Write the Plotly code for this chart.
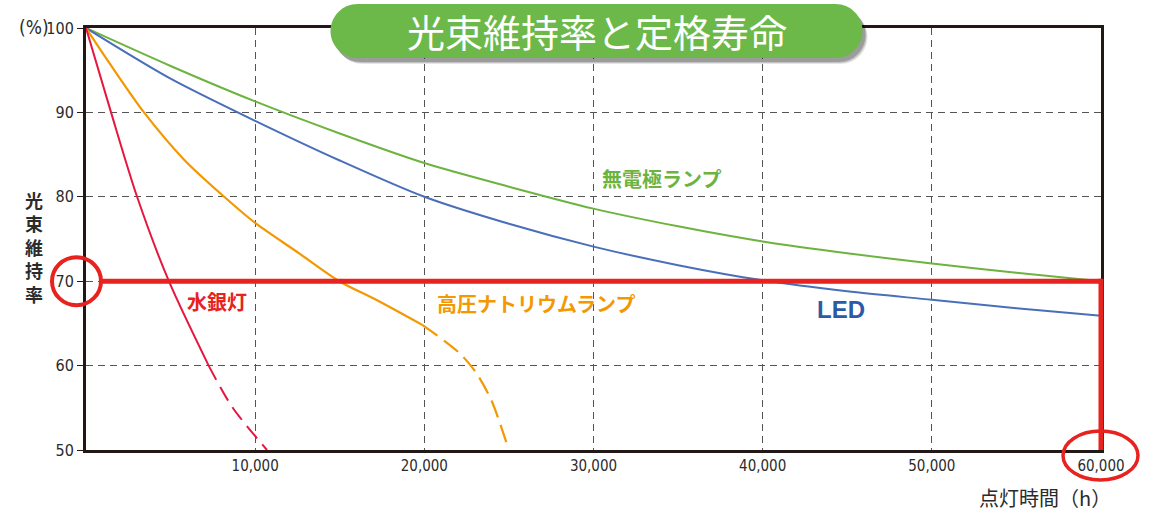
import plotly.graph_objects as go

# ---------------- data ----------------
HOURS_TICKS = [10000, 20000, 30000, 40000, 50000, 60000]
HOURS_TICK_TEXT = ["10,000", "20,000", "30,000", "40,000", "50,000", "60,000"]
PCT_TICKS = [50, 60, 70, 80, 90, 100]
PCT_TICK_TEXT = ["50", "60", "70", "80", "90", "100"]

# 無電極ランプ
ELECTRODELESS_H = [0, 5000, 10000, 15000, 20000, 25000, 30000, 35000, 40000, 45000, 50000, 55000, 60000]
ELECTRODELESS_PCT = [100, 95.5, 91.3, 87.5, 84.0, 81.2, 78.6, 76.5, 74.7, 73.3, 72.1, 71.0, 70.0]

# LED
LED_H = [0, 5000, 10000, 15000, 20000, 25000, 30000, 35000, 40000, 45000, 50000, 55000, 60000]
LED_PCT = [100, 94.0, 89.0, 84.3, 80.0, 76.8, 74.1, 71.9, 70.1, 68.8, 67.8, 66.8, 65.9]

# 高圧ナトリウムランプ (measured / extrapolated)
SODIUM_H = [0, 1400, 3430, 5800, 8170, 10000, 12600, 14970, 17150, 19900]
SODIUM_PCT = [100, 95.8, 90.0, 84.4, 80.0, 76.9, 73.3, 70.0, 67.8, 64.8]
SODIUM_EXT_H = [19900, 22070, 23080, 23960, 24850]
SODIUM_EXT_PCT = [64.8, 61.5, 59.1, 55.9, 50.9]

# 水銀灯 (measured / extrapolated)
MERCURY_H = [0, 1480, 3020, 4900, 7250]
MERCURY_PCT = [100, 90.0, 80.0, 70.0, 60.0]
MERCURY_EXT_H = [7250, 8640, 10700]
MERCURY_EXT_PCT = [60.0, 55.1, 50.0]

THRESHOLD_PCT = 70
RATED_LIFE_H = 60000
X_RANGE = [0, 60000]
Y_RANGE = [50, 100]

# ---------------- styles ----------------
GREEN = "#6db33f"
BLUE = "#4a6fba"
ORANGE = "#f39800"
MERCURY = "#e5173f"
RED = "#e8221e"
AXIS = "#231815"
GRID = "#555555"
TXT = "#2b2b2b"
NUM_FONT = "Liberation Sans Narrow, DejaVu Sans Condensed, Arial Narrow, sans-serif"
JP_FONT = "Noto Sans CJK JP, sans-serif"

fig = go.Figure()

def add_line(x, y, color, dash="solid", width=2.0):
    fig.add_trace(go.Scatter(
        x=x, y=y, mode="lines",
        line=dict(color=color, width=width, dash=dash, shape="spline", smoothing=0.8),
        hoverinfo="skip", showlegend=False))

add_line(ELECTRODELESS_H, ELECTRODELESS_PCT, GREEN)
add_line(LED_H, LED_PCT, BLUE)
add_line(SODIUM_H, SODIUM_PCT, ORANGE, width=2.2)
add_line(SODIUM_EXT_H, SODIUM_EXT_PCT, ORANGE, dash="18px,8px", width=2.2)
add_line(MERCURY_H, MERCURY_PCT, MERCURY)
add_line(MERCURY_EXT_H, MERCURY_EXT_PCT, MERCURY, dash="16px,8px")

y_frac_thr = (THRESHOLD_PCT - Y_RANGE[0]) / (Y_RANGE[1] - Y_RANGE[0])

shapes = []
# threshold (70%) horizontal line
shapes.append(dict(type="line", xref="x", yref="y", x0=900, x1=RATED_LIFE_H,
                   y0=THRESHOLD_PCT, y1=THRESHOLD_PCT, line=dict(color=RED, width=5), layer="above"))
# rated life vertical line on right edge
shapes.append(dict(type="line", xref="paper", yref="y", x0=1, x1=1,
                   y0=Y_RANGE[0], y1=THRESHOLD_PCT + 0.3, line=dict(color=RED, width=5), layer="above"))
# circle around 70 label
shapes.append(dict(type="circle", xref="paper", yref="paper", xsizemode="pixel", ysizemode="pixel",
                   xanchor=0, yanchor=y_frac_thr, x0=-34, x1=15, y0=-24, y1=24,
                   line=dict(color=RED, width=4), layer="above"))
# ellipse around 60,000 label
shapes.append(dict(type="circle", xref="paper", yref="paper", xsizemode="pixel", ysizemode="pixel",
                   xanchor=1, yanchor=0, x0=-38, x1=37, y0=-30, y1=19,
                   line=dict(color=RED, width=3.5), layer="above"))

# title pill
def pill(xl, xr, yt, yb):
    r = (yt - yb) / 2
    yc = (yt + yb) / 2
    k = 0.5523 * r
    return (f"M {xl},{yt} L {xr},{yt} "
            f"C {xr + k},{yt} {xr + r},{yc + k} {xr + r},{yc} "
            f"C {xr + r},{yc - k} {xr + k},{yb} {xr},{yb} "
            f"L {xl},{yb} "
            f"C {xl - k},{yb} {xl - r},{yc - k} {xl - r},{yc} "
            f"C {xl - r},{yc + k} {xl - k},{yt} {xl},{yt} Z")

for dx, dy, a in [(5, -6, 0.10), (4, -5, 0.15), (3, -4, 0.20)]:
    shapes.append(dict(type="path", xref="paper", yref="paper", xsizemode="pixel", ysizemode="pixel",
                       xanchor=0.5, yanchor=1,
                       path=pill(-236 + dx, 242 + dx, 24 + dy, -30 + dy),
                       fillcolor=f"rgba(0,0,0,{a})", line=dict(width=0), layer="above"))
shapes.append(dict(type="path", xref="paper", yref="paper", xsizemode="pixel", ysizemode="pixel",
                   xanchor=0.5, yanchor=1, path=pill(-236, 242, 24, -30),
                   fillcolor="#6cb94a", line=dict(width=0), layer="above"))

annotations = [
    dict(text="光束維持率と定格寿命", xref="paper", yref="paper", x=0.5, y=1, xshift=3, yshift=-2,
         showarrow=False, font=dict(family=JP_FONT, size=38, color="white"), xanchor="center", yanchor="middle"),
    dict(text="(%)", xref="paper", yref="paper", x=0, y=1, xshift=-35, yshift=1, showarrow=False,
         font=dict(family=NUM_FONT, size=19, color=TXT), xanchor="right", yanchor="middle"),
    dict(text="光<br>束<br>維<br>持<br>率", xref="paper", yref="paper", x=0, y=0.48, xshift=-52,
         showarrow=False, font=dict(family=JP_FONT, size=18, color=TXT, weight="bold"),
         xanchor="center", yanchor="middle", align="center"),
    dict(text="点灯時間（h）", xref="paper", yref="paper", x=1, y=0, xshift=-56, yshift=-47,
         showarrow=False, font=dict(family=JP_FONT, size=20, color=TXT), xanchor="center", yanchor="middle"),
    dict(text="水銀灯", x=7750, y=67.65, showarrow=False,
         font=dict(family=JP_FONT, size=20, color=RED, weight="bold")),
    dict(text="高圧ナトリウムランプ", x=26630, y=67.4, showarrow=False,
         font=dict(family=JP_FONT, size=20, color=ORANGE, weight="bold")),
    dict(text="無電極ランプ", x=34020, y=82.2, showarrow=False,
         font=dict(family=JP_FONT, size=20, color=GREEN, weight="bold")),
    dict(text="LED", x=44620, y=66.7, showarrow=False,
         font=dict(family="Liberation Sans, Arial, sans-serif", size=24, color="#2b5ba8", weight="bold")),
]

fig.update_layout(
    width=1153, height=513,
    margin=dict(l=86, r=52, t=28, b=63),
    paper_bgcolor="white", plot_bgcolor="white",
    shapes=shapes, annotations=annotations,
    xaxis=dict(range=X_RANGE, tickvals=HOURS_TICKS, ticktext=HOURS_TICK_TEXT,
               showline=True, linecolor=AXIS, linewidth=3, mirror=True,
               showgrid=True, gridcolor=GRID, gridwidth=1.2, griddash="7px,5px",
               ticks="", zeroline=False, tickfont=dict(family=NUM_FONT, size=15, color=TXT)),
    yaxis=dict(range=Y_RANGE, tickvals=PCT_TICKS, ticktext=PCT_TICK_TEXT,
               showline=True, linecolor=AXIS, linewidth=3, mirror=True,
               showgrid=True, gridcolor=GRID, gridwidth=1.2, griddash="7px,5px",
               ticks="outside", ticklen=6, tickcolor=AXIS, tickwidth=1.2,
               zeroline=False, tickfont=dict(family=NUM_FONT, size=16, color=TXT)),
)

fig.write_html("out.html")
